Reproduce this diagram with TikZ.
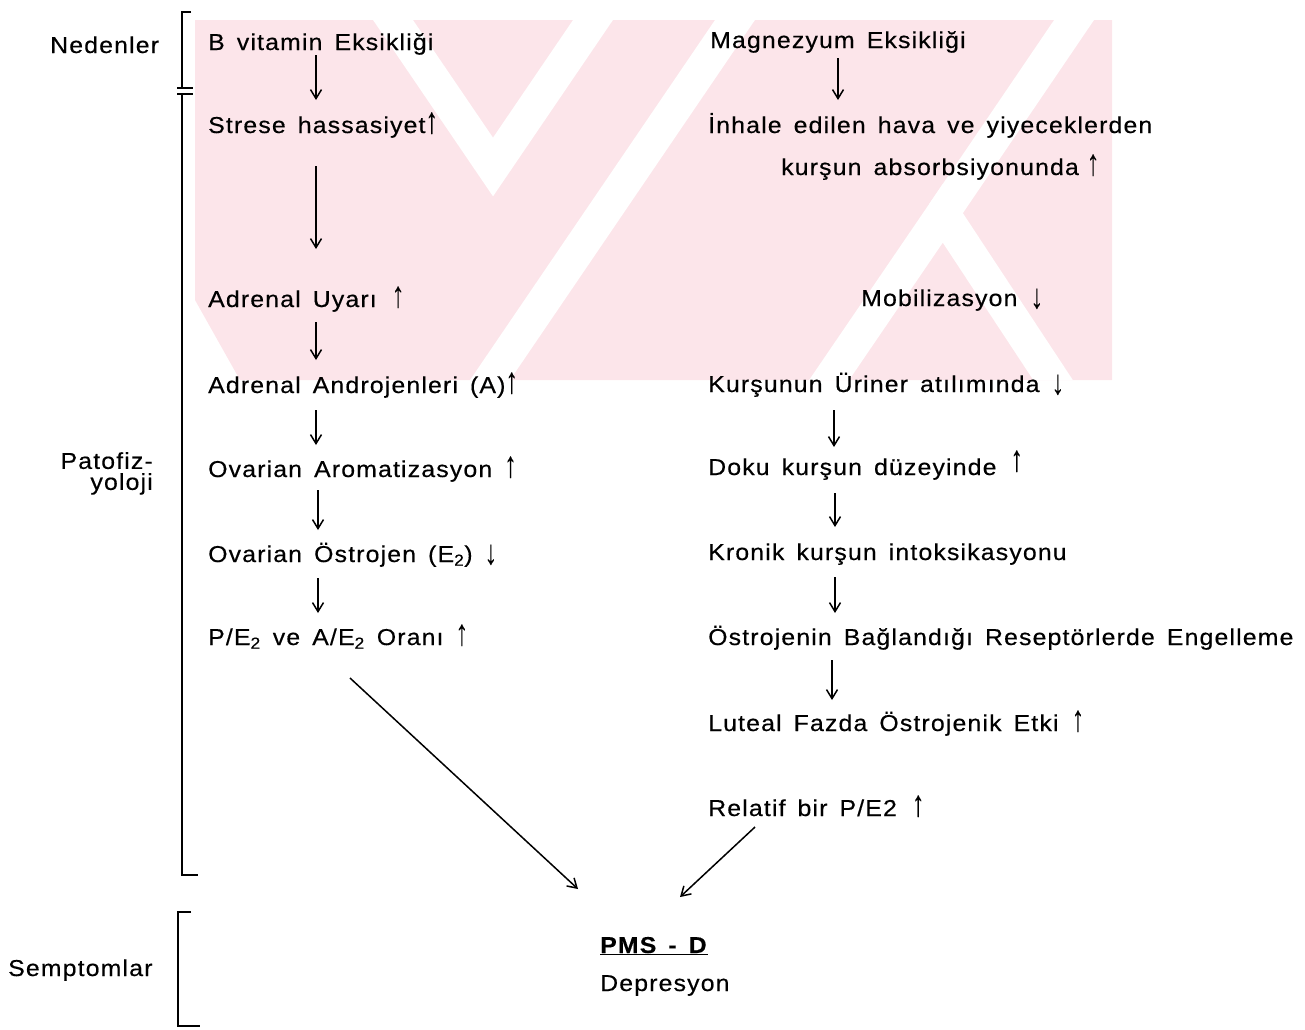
\documentclass[tikz,border=0pt]{standalone}
\usepackage{fontspec}
\usepackage{graphicx}
\setmainfont{Liberation Sans}[LetterSpace=5, FakeStretch=1.08, FakeBold=0.4, WordSpace=1.5]
\usetikzlibrary{arrows.meta}
\definecolor{wm}{RGB}{252,229,234}
\newcommand{\upar}{\scalebox{1}[1.6]{↑}}
\newcommand{\dnar}{\raisebox{-2pt}{\scalebox{1}[1.5]{↓}}}
\begin{document}
\begin{tikzpicture}[x=1pt,y=-1pt,
  lbl/.style={inner sep=0pt, anchor=base west, font=\fontsize{23pt}{27pt}\selectfont},
  arr/.style={line width=1.5pt, -{Straight Barb[length=9pt,width=11pt]}},
  brk/.style={line width=1.3pt},
  wmline/.style={white, line width=33pt, line join=miter}]
\useasboundingbox (0,0) rectangle (1305,1029);
% faint background mark
\begin{scope}
  \clip (195,20) -- (1112,20) -- (1112,380) -- (240,380) -- (195,300) -- cycle;
  \fill[wm] (0,0) rectangle (1305,400);
  \draw[wmline] (1108,-30) -- (943,213);
  \draw[wmline] (795,430) -- (943,213) -- (1086,430);
  \draw[wmline] (769,-30) -- (456,430);
  \draw[wmline] (359,-30) -- (493,167) -- (627,-30);
\end{scope}
% brackets
\draw[brk] (191,12) -- (182,12) -- (182,88);
\draw[brk] (177,88) -- (193,88);
\draw[brk] (177,94) -- (193,94);
\draw[brk] (182,94) -- (182,875) -- (198,875);
\draw[brk] (191,912) -- (178,912) -- (178,1026) -- (200,1026);
% side labels
\node[lbl] (ned) at (50,53) {Nedenler};
\node[lbl, anchor=north east, align=right, font=\fontsize{23pt}{21pt}\selectfont] (pat) at (153,452) {Patofiz-\\yoloji};
\node[lbl] (sem) at (8,976) {Semptomlar};
% left column
\node[lbl] (bvit) at (208,50) {B vitamin Eksikliği};
\node[lbl] (stres) at (208,133) {Strese hassasiyet\upar};
\node[lbl] (adru) at (208,307) {Adrenal Uyarı\hspace{14pt}\textbf{\upar}};
\node[lbl] (adran) at (208,393) {Adrenal Androjenleri (A)\upar};
\node[lbl] (ovar) at (208,477) {Ovarian Aromatizasyon \upar};
\node[lbl] (ovost) at (208,562) {Ovarian Östrojen (E\textsubscript{2}) \dnar};
\node[lbl] (pe) at (208,645) {P/E\textsubscript{2} ve A/E\textsubscript{2} Oranı \upar};
% right column
\node[lbl] (magn) at (710,48) {Magnezyum Eksikliği};
\node[lbl] (inh) at (708,133) {İnhale edilen hava ve yiyeceklerden};
\node[lbl] (kabs) at (781,175) {kurşun absorbsiyonunda\hspace{8pt}\upar};
\node[lbl] (mob) at (861,306) {Mobilizasyon \textbf{\dnar}};
\node[lbl] (kurs) at (708,392) {Kurşunun Üriner atılımında \dnar};
\node[lbl] (doku) at (708,475) {Doku kurşun düzeyinde\hspace{14pt}\raisebox{4pt}{\upar}};
\node[lbl] (kron) at (708,560) {Kronik kurşun intoksikasyonu};
\node[lbl] (ostr) at (708,645) {Östrojenin Bağlandığı Reseptörlerde Engelleme};
\node[lbl] (lut) at (708,731) {Luteal Fazda Östrojenik Etki \textbf{\upar}};
\node[lbl] (rel) at (708,816) {Relatif bir P/E2\hspace{14pt}\textbf{\upar}};
% result
\node[lbl] (pms) at (600,953) {\underline{\textbf{PMS - D}}};
\node[lbl] (dep) at (600,991) {Depresyon};
% left chain
\draw[arr] ([shift={(108,5)}]bvit.base west) -- ([shift={(108,-33)}]stres.base west);
\draw[arr] ([shift={(108,33)}]stres.base west) -- ([shift={(108,-58)}]adru.base west);
\draw[arr] ([shift={(108,15)}]adru.base west) -- ([shift={(108,-33)}]adran.base west);
\draw[arr] ([shift={(108,17)}]adran.base west) -- ([shift={(108,-32)}]ovar.base west);
\draw[arr] ([shift={(110,13)}]ovar.base west) -- ([shift={(110,-32)}]ovost.base west);
\draw[arr] ([shift={(110,16)}]ovost.base west) -- ([shift={(110,-32)}]pe.base west);
% right chain
\draw[arr] ([shift={(128,10)}]magn.base west) -- ([shift={(130,-33)}]inh.base west);
\draw[arr] ([shift={(126,18)}]kurs.base west) -- ([shift={(126,-28)}]doku.base west);
\draw[arr] ([shift={(127,18)}]doku.base west) -- ([shift={(127,-33)}]kron.base west);
\draw[arr] ([shift={(127,17)}]kron.base west) -- ([shift={(127,-32)}]ostr.base west);
\draw[arr] ([shift={(124,15)}]ostr.base west) -- ([shift={(124,-31)}]lut.base west);
% to result
\draw[arr] ([shift={(142,33)}]pe.base west) -- ([shift={(-22,-64)}]pms.base west);
\draw[arr] ([shift={(47,11)}]rel.base west) -- ([shift={(80,-56)}]pms.base west);
\end{tikzpicture}
\end{document}
